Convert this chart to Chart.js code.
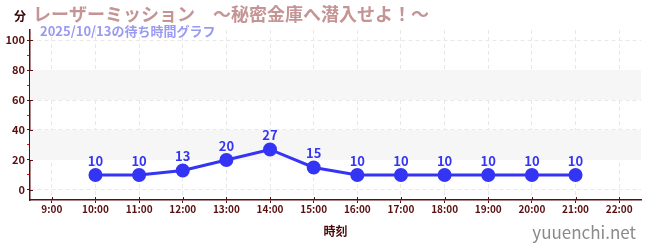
<!DOCTYPE html>
<html>
<head>
<meta charset="utf-8">
<script src="https://cdn.jsdelivr.net/npm/chart.js@4/dist/chart.umd.min.js"></script>
<style>
html, body { margin: 0; padding: 0; background: #fff; }
</style>
</head>
<body>
<canvas id="chWait" width="650" height="250"></canvas>
<script>
// 待ち時間データ
var hours = [10, 11, 12, 13, 14, 15, 16, 17, 18, 19, 20, 21];
var waits = [10, 10, 13, 20, 27, 15, 10, 10, 10, 10, 10, 10];
var hourTicks = [9, 10, 11, 12, 13, 14, 15, 16, 17, 18, 19, 20, 21, 22];
var minuteTicks = [0, 10, 20, 30, 40, 50, 60, 70, 80, 90, 100];
var bands = [[20, 40], [60, 80]];

var unitText = '分';
var titleText = 'レーザーミッション　～秘密金庫へ潜入せよ！～';
var subText = '2025/10/13の待ち時間グラフ';
var siteText = 'yuuenchi.net';

var FONT = '"Noto Sans CJK JP", "Noto Sans", sans-serif';
var axisColor = '#5a0f0f';
var lineColor = '#3434f4';

var isMajor = function (v) { return v % 20 === 0; };

// 背景の帯
var bandPlugin = {
	id: 'bands',
	beforeDatasetsDraw: function (chart) {
		var ctx = chart.ctx, y = chart.scales.y, a = chart.chartArea;
		ctx.save();
		ctx.fillStyle = '#f6f6f6';
		bands.forEach(function (b) {
			var top = y.getPixelForValue(b[1]), bot = y.getPixelForValue(b[0]);
			ctx.fillRect(a.left, top, a.right - a.left, bot - top);
		});
		ctx.restore();
	}
};

// ラベル・タイトル
var textPlugin = {
	id: 'texts',
	afterDatasetsDraw: function (chart) {
		var ctx = chart.ctx;
		var meta = chart.getDatasetMeta(0);
		ctx.save();
		ctx.font = 'bold 13px ' + FONT;
		ctx.fillStyle = lineColor;
		ctx.textAlign = 'center';
		ctx.textBaseline = 'middle';
		meta.data.forEach(function (pt, i) {
			ctx.fillText(String(waits[i]), pt.x, pt.y - 14);
		});
		ctx.restore();
	},
	afterDraw: function (chart) {
		var ctx = chart.ctx, a = chart.chartArea;
		var x = chart.scales.x, y = chart.scales.y;
		ctx.save();
		// 軸をまたぐ目盛り
		ctx.strokeStyle = axisColor;
		ctx.lineWidth = 1;
		ctx.beginPath();
		hourTicks.forEach(function (h) {
			var px = Math.round(x.getPixelForValue(h)) + 0.5;
			ctx.moveTo(px, a.bottom - 3);
			ctx.lineTo(px, a.bottom);
		});
		minuteTicks.filter(isMajor).forEach(function (v) {
			var py = Math.round(y.getPixelForValue(v)) + 0.5;
			ctx.moveTo(a.left, py);
			ctx.lineTo(a.left + 3, py);
		});
		ctx.stroke();

		ctx.textBaseline = 'middle';
		ctx.textAlign = 'left';
		ctx.font = 'bold 12px ' + FONT;
		ctx.fillStyle = '#3a0606';
		ctx.fillText(unitText, 14, 16);
		ctx.font = 'bold 18px ' + FONT;
		ctx.fillStyle = '#c59595';
		ctx.fillText(titleText, 33, 14);
		ctx.font = 'bold 13px ' + FONT;
		ctx.fillStyle = '#9a9af2';
		ctx.fillText(subText, 40, 31);
		ctx.font = '17px ' + FONT;
		ctx.fillStyle = '#8a8a8a';
		ctx.textAlign = 'right';
		ctx.fillText(siteText, 636, 233);
		ctx.restore();
	}
};

new Chart(document.getElementById('chWait'), {
	type: 'line',
	data: {
		datasets: [{
			data: hours.map(function (h, i) { return { x: h, y: waits[i] }; }),
			borderColor: lineColor,
			backgroundColor: lineColor,
			borderWidth: 3,
			pointRadius: 5.5,
			pointHoverRadius: 5.5,
			tension: 0
		}]
	},
	options: {
		responsive: false,
		animation: false,
		devicePixelRatio: 1,
		layout: { padding: { top: 30, right: 9, left: 0, bottom: 0 } },
		plugins: { legend: { display: false }, tooltip: { enabled: false }, title: { display: false } },
		scales: {
			x: {
				type: 'linear',
				min: 8.5,
				max: 22.5,
				afterBuildTicks: function (s) { s.ticks = hourTicks.map(function (v) { return { value: v }; }); },
				afterFit: function (s) { s.height = 50; },
				ticks: {
					autoSkip: false,
					maxRotation: 0,
					padding: 0,
					color: axisColor,
					font: { family: FONT, size: 10, weight: 'bold' },
					callback: function (v) { return v + ':00'; }
				},
				grid: { color: '#e8e8e8', tickColor: axisColor, tickLength: 3 },
				border: { color: axisColor, width: 1.5, dash: [4, 3] },
				title: {
					display: true,
					text: '時刻',
					color: '#4a0808',
					font: { family: FONT, size: 12, weight: 'bold' },
					padding: { top: 0, bottom: 11 }
				}
			},
			y: {
				min: -6.7,
				max: 106.7,
				afterBuildTicks: function (s) { s.ticks = minuteTicks.map(function (v) { return { value: v }; }); },
				afterFit: function (s) { s.width = 30; },
				ticks: {
					padding: 2,
					color: axisColor,
					font: { family: FONT, size: 11, weight: 'bold' },
					callback: function (v) { return isMajor(v) ? String(v) : ''; }
				},
				grid: {
					color: function (c) { return isMajor(c.tick.value) ? '#e8e8e8' : 'rgba(0,0,0,0)'; },
					tickColor: function (c) { return isMajor(c.tick.value) ? axisColor : '#e01010'; },
					tickLength: 3
				},
				border: { color: axisColor, width: 1.5, dash: [4, 3] }
			}
		}
	},
	plugins: [bandPlugin, textPlugin]
});
</script>
</body>
</html>
